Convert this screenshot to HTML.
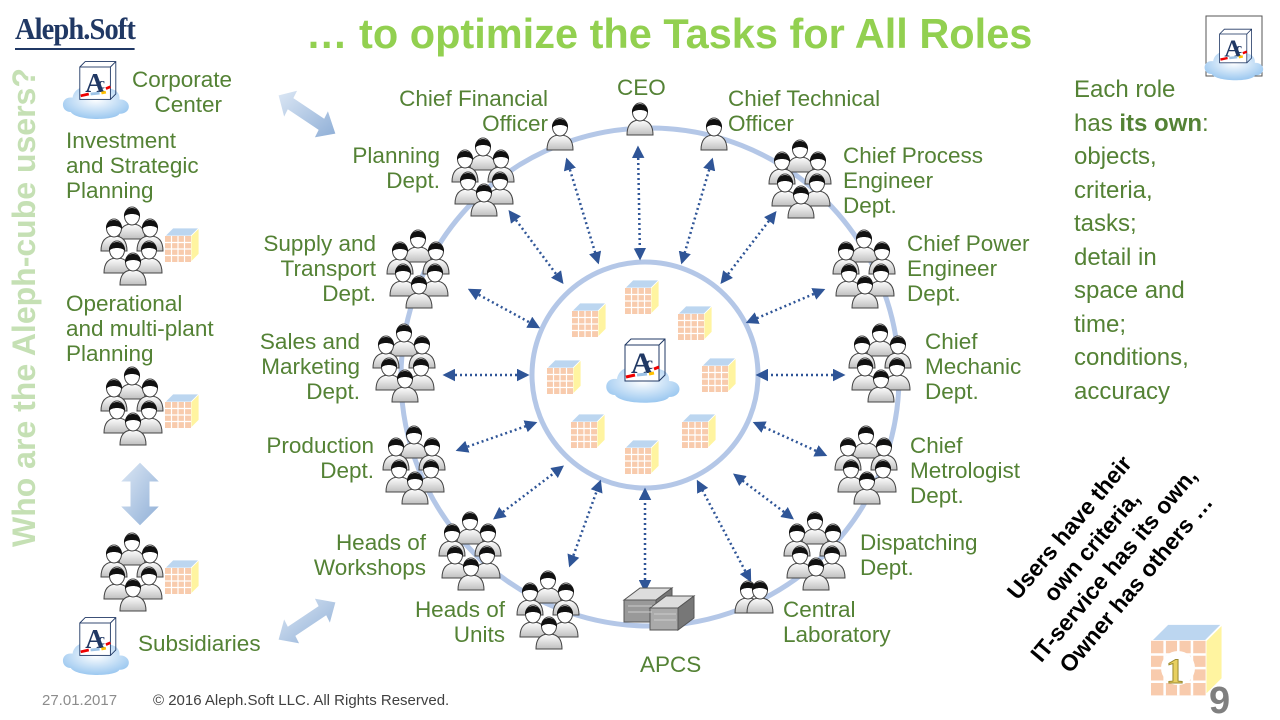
<!DOCTYPE html>
<html><head><meta charset="utf-8">
<style>
html,body{margin:0;padding:0;background:#fff;}
#w{position:relative;width:1280px;height:720px;overflow:hidden;font-family:"Liberation Sans",sans-serif;}
.t{position:absolute;color:#548235;font-size:22.5px;line-height:25px;white-space:nowrap;}
.r{text-align:right;}
svg{position:absolute;left:0;top:0;}
</style></head><body><div id="w">
<svg width="1280" height="720" viewBox="0 0 1280 720">
<defs>
<linearGradient id="bd" x1="0" y1="0" x2="0" y2="1"><stop offset="0" stop-color="#ffffff"/><stop offset="1" stop-color="#c0c0c0"/></linearGradient>
<radialGradient id="cl" cx="0.5" cy="0.4" r="0.6"><stop offset="0" stop-color="#ffffff"/><stop offset="1" stop-color="#9cc8f0"/></radialGradient>
<linearGradient id="ba" x1="0" y1="0" x2="1" y2="1"><stop offset="0" stop-color="#dde8f5"/><stop offset="1" stop-color="#8eaed6"/></linearGradient>
<g id="p">
<path d="M-13,25 C-13,14 -8,10 0,10 C8,10 13,14 13,25 Z" fill="url(#bd)" stroke="#444" stroke-width="1"/>
<ellipse cx="0" cy="2" rx="7.5" ry="9" fill="#fff" stroke="#444" stroke-width="1"/>
<path d="M-8,3 C-9,-9 9,-9 8,3 C5,-1 -5,-1 -8,3 Z" fill="#111"/>
</g>
<g id="g">
<use href="#p" x="0" y="0"/><use href="#p" x="-18" y="12"/><use href="#p" x="18" y="12"/>
<use href="#p" x="-15" y="34"/><use href="#p" x="17" y="34"/><use href="#p" x="1" y="46"/>
</g>
<g id="c">
<path d="M0,8 L8,0 L34,0 L26,8 Z" fill="#bcd6f0" stroke="#fff" stroke-width="0.8"/>
<path d="M26,8 L34,0 L34,26 L26,34 Z" fill="#fff4a0" stroke="#fff" stroke-width="0.8"/>
<rect x="0" y="8" width="26" height="26" fill="#f8cbad"/>
<path d="M6.5,8V34M13,8V34M19.5,8V34M0,14.5H26M0,21H26M0,27.5H26" stroke="#fff" stroke-width="1.2"/>
</g>
<g id="ac">
<path d="M-28,20 C-40,20 -40,2 -26,4 C-24,-10 -4,-12 2,-2 C10,-10 28,-6 26,6 C40,6 40,22 26,22 C22,30 -22,30 -28,20 Z" fill="url(#cl)"/>
<rect x="-18" y="-30" width="34" height="36" fill="#fff" stroke="#203864" stroke-width="1"/>
<path d="M-18,-30 L-12,-36 L22,-36 L22,0 L16,6 M16,-30 L22,-36" fill="none" stroke="#203864" stroke-width="1"/>
<text x="-12" y="-2" font-family="Liberation Serif" font-weight="bold" font-size="30" fill="#203864">A</text>
<text x="2" y="-6" font-family="Liberation Serif" font-weight="bold" font-size="18" fill="#203864">c</text>
<path d="M-17,2 L-8,0" stroke="#e00" stroke-width="3"/><path d="M-6,0 L4,-1" stroke="#9dc3e6" stroke-width="3"/><path d="M6,-1 L11,-2" stroke="#ffc000" stroke-width="3"/><path d="M11,-6 L16,-8" stroke="#e00" stroke-width="3"/>
</g>
<marker id="ah" viewBox="0 0 10 10" refX="8" refY="5" markerWidth="5" markerHeight="5" orient="auto-start-reverse"><path d="M0,0 L10,5 L0,10 Z" fill="#2f5597"/></marker>
</defs>
<circle cx="650" cy="377" r="249" fill="none" stroke="#b4c7e7" stroke-width="5"/>
<circle cx="645" cy="375" r="113" fill="none" stroke="#b4c7e7" stroke-width="5"/>
<g stroke="#2f5597" stroke-width="2.5" stroke-dasharray="2 3" marker-start="url(#ah)" marker-end="url(#ah)">
<line x1="567" y1="160" x2="598" y2="262"/><line x1="638" y1="148" x2="640" y2="258"/><line x1="712" y1="160" x2="682" y2="262"/>
<line x1="510" y1="212" x2="562" y2="282"/><line x1="775" y1="213" x2="722" y2="282"/>
<line x1="470" y1="290" x2="538" y2="327"/><line x1="823" y1="290" x2="748" y2="322"/>
<line x1="445" y1="375" x2="527" y2="375"/><line x1="843" y1="375" x2="758" y2="375"/>
<line x1="458" y1="450" x2="535" y2="423"/><line x1="825" y1="455" x2="755" y2="423"/>
<line x1="495" y1="518" x2="562" y2="467"/><line x1="792" y1="518" x2="735" y2="475"/>
<line x1="570" y1="565" x2="600" y2="482"/><line x1="750" y1="580" x2="698" y2="482"/>
<line x1="645" y1="590" x2="645" y2="490"/>
</g>
<use href="#c" x="625" y="280"/><use href="#c" x="572" y="303"/><use href="#c" x="678" y="306"/>
<use href="#c" x="547" y="360"/><use href="#c" x="702" y="358"/><use href="#c" x="571" y="414"/>
<use href="#c" x="682" y="414"/><use href="#c" x="625" y="440"/>
<use href="#ac" x="643" y="375"/>
<use href="#g" x="483" y="145"/><use href="#g" x="800" y="147"/>
<use href="#g" x="418" y="237"/><use href="#g" x="864" y="237"/>
<use href="#g" x="404" y="331"/><use href="#g" x="880" y="331"/>
<use href="#g" x="414" y="433"/><use href="#g" x="866" y="433"/>
<use href="#g" x="470" y="519"/><use href="#g" x="815" y="519"/>
<use href="#g" x="548" y="578"/>
<use href="#p" x="560" y="125"/><use href="#p" x="640" y="110"/><use href="#p" x="714" y="125"/>
<use href="#p" x="748" y="588"/><use href="#p" x="760" y="588"/>
<g stroke="#555" stroke-width="1">
<path d="M624,600 L640,588 L672,588 L656,600 Z" fill="#ddd"/><rect x="624" y="600" width="32" height="22" fill="#999"/><path d="M656,600 L672,588 L672,610 L656,622Z" fill="#777"/>
<path d="M650,608 L666,596 L694,596 L678,608 Z" fill="#ddd"/><rect x="650" y="608" width="28" height="22" fill="#aaa"/><path d="M678,608 L694,596 L694,618 L678,630Z" fill="#777"/>
<path d="M628,606H652M628,612H652M654,614H676M654,620H676" stroke="#ccc"/>
</g>
<use href="#g" x="132" y="214"/><use href="#c" x="165" y="228"/>
<use href="#g" x="132" y="374"/><use href="#c" x="165" y="394"/>
<use href="#g" x="132" y="540"/><use href="#c" x="165" y="560"/>
<use href="#ac" x="96" y="94" transform="translate(96 94) scale(0.9) translate(-96 -94)"/>
<use href="#ac" x="96" y="650" transform="translate(96 650) scale(0.9) translate(-96 -650)"/>
<g fill="url(#ba)" stroke="#fff" stroke-width="1">
<path d="M278,95 L298,90 L294,98 L324,118 L328,110 L336,134 L314,138 L318,130 L288,110 L284,118 Z"/>
<path d="M278,640 L284,618 L288,626 L318,606 L314,598 L336,602 L330,624 L326,616 L296,636 L300,644 Z"/>
<path d="M140,462 L160,482 L150,482 L150,506 L160,506 L140,526 L120,506 L130,506 L130,482 L120,482 Z"/>
</g>
<rect x="1206" y="16" width="56" height="60" fill="#fff" stroke="#555"/>
<use href="#ac" x="1234" y="58" transform="translate(1234 58) scale(0.8) translate(-1234 -58)"/>
<g transform="translate(1151 624) scale(2.1)"><use href="#c"/></g>
<circle cx="1178" cy="668" r="17" fill="#fff"/>
<text x="1166" y="683" font-family="Liberation Serif" font-weight="bold" font-size="36" fill="#e8d060" stroke="#9a8a30" stroke-width="1">1</text>
</svg>
<div style="position:absolute;left:15px;top:10px;font-family:'Liberation Serif',serif;font-weight:bold;font-size:31px;color:#203864;letter-spacing:-1px;transform:scaleX(0.92);transform-origin:left;border-bottom:2px solid #203864;line-height:38px;width:130px">Aleph.Soft</div>
<div style="position:absolute;left:306px;top:10px;font-size:41.5px;font-weight:bold;color:#92d050;white-space:nowrap">… to optimize the Tasks for All Roles</div>
<div style="position:absolute;left:6px;top:547px;width:490px;transform:rotate(-90deg);transform-origin:left top;font-size:32px;font-weight:bold;color:#c5e0b4;white-space:nowrap;line-height:36px">Who are the Aleph-cube users?</div>
<div class="t" style="left:132px;top:67px;text-align:center">Corporate<br>&nbsp;&nbsp;Center</div>
<div class="t" style="left:66px;top:128px">Investment<br>and Strategic<br>Planning</div>
<div class="t" style="left:66px;top:291px">Operational<br>and multi-plant<br>Planning</div>
<div class="t" style="left:138px;top:631px">Subsidiaries</div>
<div class="t r" style="right:732px;top:86px">Chief Financial<br>Officer</div>
<div class="t" style="left:617px;top:75px">CEO</div>
<div class="t" style="left:728px;top:86px">Chief Technical<br>Officer</div>
<div class="t r" style="right:840px;top:143px">Planning<br>Dept.</div>
<div class="t" style="left:843px;top:143px">Chief Process<br>Engineer<br>Dept.</div>
<div class="t r" style="right:904px;top:231px">Supply and<br>Transport<br>Dept.</div>
<div class="t" style="left:907px;top:231px">Chief Power<br>Engineer<br>Dept.</div>
<div class="t r" style="right:920px;top:329px">Sales and<br>Marketing<br>Dept.</div>
<div class="t" style="left:925px;top:329px">Chief<br>Mechanic<br>Dept.</div>
<div class="t r" style="right:906px;top:433px">Production<br>Dept.</div>
<div class="t" style="left:910px;top:433px">Chief<br>Metrologist<br>Dept.</div>
<div class="t r" style="right:854px;top:530px">Heads of<br>Workshops</div>
<div class="t" style="left:860px;top:530px">Dispatching<br>Dept.</div>
<div class="t r" style="right:775px;top:597px">Heads of<br>Units</div>
<div class="t" style="left:783px;top:597px">Central<br>Laboratory</div>
<div class="t" style="left:640px;top:652px">APCS</div>
<div class="t" style="left:1074px;top:73px;font-size:24px;line-height:33.5px">Each role<br>has <b>its own</b>:<br>objects,<br>criteria,<br>tasks;<br>detail in<br>space and<br>time;<br>conditions,<br>accuracy</div>
<div style="position:absolute;left:980px;top:612px;transform:rotate(-50deg);transform-origin:left top;font-weight:bold;font-size:23px;line-height:29px;color:#000;white-space:nowrap;text-align:center">Users have their<br>own criteria,<br>IT-service has its own,<br>Owner has others …</div>
<div style="position:absolute;left:42px;top:692px;font-size:15px;color:#8c8c8c">27.01.2017</div>
<div style="position:absolute;left:153px;top:692px;font-size:15px;color:#404040">© 2016 Aleph.Soft LLC. All Rights Reserved.</div>
<div style="position:absolute;left:1209px;top:680px;font-size:38px;font-weight:bold;color:#7f7f7f">9</div>
</div></body></html>
